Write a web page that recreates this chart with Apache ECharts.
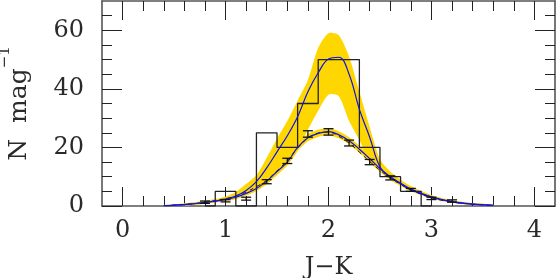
<!DOCTYPE html>
<html>
<head>
<meta charset="UTF-8">
<title>J-K histogram</title>
<script src="https://cdn.jsdelivr.net/npm/echarts@6/dist/echarts.min.js"></script>
<style>
  * { margin: 0; padding: 0; }
  body { background: #fff; }
  #chart { width: 556px; height: 278px; }
</style>
</head>
<body>
<div id="chart"></div>
<script>
// ticks
const xMajor = [0, 1, 2, 3, 4];
const xMinor = [0.2, 0.4, 0.6, 0.8, 1.2, 1.4, 1.6, 1.8, 2.2, 2.4, 2.6, 2.8, 3.2, 3.4, 3.6, 3.8];
const yMajor = [0, 20, 40, 60];
const yMinor = [5, 10, 15, 25, 30, 35, 45, 50, 55, 65];

// histogram (bin centres, N mag^-1)
const histX = [0.8, 1.0, 1.2, 1.4, 1.6, 1.8, 2.0, 2.2, 2.4, 2.6, 2.8, 3.0];
const histY = [0, 5, 0, 25, 20, 35, 50, 50, 20, 10, 5, 0];

// model curves / bands sampled on this grid
const gridX = [0.4, 0.6, 0.8, 1.0, 1.1, 1.2, 1.3, 1.4, 1.5, 1.6, 1.7, 1.8, 1.9, 2.0, 2.1, 2.2, 2.3, 2.4, 2.5, 2.6, 2.7, 2.8, 3.0, 3.2, 3.4, 3.6];
const lowLo  = [0.0, 0.2, 0.8, 1.7, 2.4, 3.6, 5.2, 7.5, 10.6, 13.9, 18.8, 22.1, 23.6, 24.2, 23.1, 21.1, 18.2, 15.0, 11.7, 9.0, 6.9, 5.0, 2.6, 1.1, 0.4, 0.0];
const lowHi  = [0.3, 0.8, 1.6, 2.7, 3.6, 5.0, 6.8, 9.5, 13.0, 16.5, 21.2, 24.5, 26.0, 26.6, 25.5, 23.5, 20.6, 17.4, 13.9, 11.0, 8.7, 6.6, 3.6, 1.9, 1.0, 0.4];
const upInner = [0.0, 0.2, 0.8, 1.7, 2.4, 3.6, 5.2, 7.5, 10.6, 13.9, 18.8, 26.0, 32.5, 38.0, 37.5, 29.0, 22.5, 15.0, 11.7, 9.0, 6.9, 5.0, 2.6, 1.1, 0.4, 0.0];
const upOuter = [0.3, 0.9, 1.8, 3.2, 4.8, 7.5, 10.5, 16.5, 23.0, 29.0, 36.0, 43.0, 54.0, 59.0, 58.3, 51.0, 39.0, 27.0, 16.0, 11.8, 9.0, 6.8, 3.7, 2.0, 1.0, 0.4];
const blueLow = [0.1, 0.5, 1.2, 2.2, 3.0, 4.3, 6.0, 8.5, 11.8, 15.0, 20.0, 23.3, 24.8, 25.4, 24.3, 22.3, 19.4, 16.2, 12.8, 10.0, 7.8, 5.8, 3.1, 1.5, 0.7, 0.2];
const blueHigh = [0.1, 0.5, 1.2, 2.4, 3.4, 5.3, 8.3, 13.0, 18.5, 24.0, 30.5, 39.0, 45.5, 50.2, 50.8, 45.0, 33.0, 23.5, 13.3, 9.8, 7.6, 5.6, 3.0, 1.4, 0.6, 0.2];
const dashed  = [0.1, 0.5, 1.3, 2.5, 3.4, 4.8, 6.6, 8.8, 12.0, 15.5, 19.8, 23.2, 24.9, 25.2, 23.8, 21.5, 18.4, 15.2, 12.2, 9.6, 7.4, 5.5, 2.8, 1.4, 0.6, 0.2];

// points with error bars
const errX = [0.8, 1.0, 1.2, 1.4, 1.6, 1.8, 2.0, 2.2, 2.4, 2.6, 2.8, 3.0, 3.2];
const errY = [1.3, 1.8, 2.5, 8.3, 15.4, 24.6, 25.3, 21.5, 15.0, 9.6, 5.5, 2.6, 1.7];
const errE = [0.4, 0.4, 0.5, 0.7, 0.9, 1.1, 1.1, 1.0, 0.9, 0.7, 0.5, 0.4, 0.4];

const FONT = 'DejaVu Serif';
const TXT = '#2a2a2a';
const FRAME = '#555';
const TICK = '#222';

function pairs(xs, ys) { return xs.map((x, i) => [x, ys[i]]); }

function bandItem(lo, hi) {
  return function (params, api) {
    const pts = [];
    for (let i = 0; i < gridX.length; i++) pts.push(api.coord([gridX[i], hi[i]]));
    for (let i = gridX.length - 1; i >= 0; i--) pts.push(api.coord([gridX[i], lo[i]]));
    return { type: 'polygon', shape: { points: pts, smooth: 0.25 }, style: { fill: '#ffd700', stroke: null } };
  };
}

function xAx(pos, ticks, len, withLabel) {
  return {
    type: 'value', position: pos, min: -0.2, max: 4.2, gridIndex: 0,
    axisLine: { show: len > 15, onZero: false, lineStyle: { color: FRAME, width: 1.6 } },
    axisTick: { show: true, inside: true, length: len, customValues: ticks, lineStyle: { color: TICK, width: 1 } },
    axisLabel: withLabel ? { show: true, customValues: ticks, margin: 13, fontFamily: FONT, fontSize: 24, color: TXT } : { show: false },
    splitLine: { show: false }
  };
}
function yAx(pos, ticks, len, withLabel) {
  return {
    type: 'value', position: pos, min: 0, max: 70, gridIndex: 0,
    axisLine: { show: len > 15, onZero: false, lineStyle: { color: FRAME, width: 1.6 } },
    axisTick: { show: true, inside: true, length: len, customValues: ticks, lineStyle: { color: TICK, width: 1 } },
    axisLabel: withLabel ? { show: true, customValues: ticks, margin: 18, fontFamily: FONT, fontSize: 24, color: TXT } : { show: false },
    splitLine: { show: false }
  };
}

const xAxes = [xAx('bottom', xMajor, 19, true), xAx('bottom', xMinor, 10, false), xAx('top', xMajor, 19, false), xAx('top', xMinor, 10, false)];
xAxes[0].name = 'J\u2212K';
xAxes[0].nameLocation = 'middle';
xAxes[0].nameGap = 50;
xAxes[0].nameTextStyle = { fontFamily: FONT, fontSize: 24, color: TXT };

const yAxes = [yAx('left', yMajor, 20, true), yAx('left', yMinor, 10, false), yAx('right', yMajor, 20, false), yAx('right', yMinor, 10, false)];
yAxes[0].name = '{a|N  mag}{s|\u22121}';
yAxes[0].nameLocation = 'middle';
yAxes[0].nameGap = 70;
yAxes[0].nameTextStyle = {
  fontFamily: FONT, fontSize: 25, color: TXT,
  rich: {
    a: { fontFamily: FONT, fontSize: 25, color: TXT, lineHeight: 34, verticalAlign: 'bottom' },
    s: { fontFamily: FONT, fontSize: 15, color: TXT, lineHeight: 34, verticalAlign: 'top' }
  }
};

const chart = echarts.init(document.getElementById('chart'));
chart.setOption({
  animation: false,
  grid: { left: 102, right: 1, top: 1, bottom: 72, outerBoundsMode: 'none' },
  xAxis: xAxes,
  yAxis: yAxes,
  series: [
    { type: 'custom', renderItem: bandItem(upInner, upOuter), data: [[1, 1]], z: 1, silent: true },
    { type: 'custom', renderItem: bandItem(lowLo, lowHi), data: [[1, 1]], z: 1, silent: true },
    {
      type: 'line', data: pairs(histX, histY), step: 'middle', symbol: 'none', z: 3,
      lineStyle: { color: '#222', width: 1.3 }
    },
    {
      type: 'line', data: pairs(gridX, dashed), smooth: 0.4, symbol: 'none', z: 4,
      lineStyle: { color: '#111', width: 1, type: [4, 4] }
    },
    {
      type: 'line', data: pairs(gridX, blueLow), smooth: 0.4, symbol: 'none', z: 5,
      lineStyle: { color: '#1010ee', width: 1.2 }
    },
    {
      type: 'line', data: pairs(gridX, blueHigh), smooth: 0.4, symbol: 'none', z: 5,
      lineStyle: { color: '#1010ee', width: 1.2 }
    },
    {
      type: 'custom', z: 6,
      data: errX.map((x, i) => [x, errY[i], errE[i]]),
      renderItem: function (params, api) {
        const x = api.value(0), y = api.value(1), e = api.value(2);
        const lo = api.coord([x, y - e]);
        const hi = api.coord([x, y + e]);
        const st = { stroke: '#111', lineWidth: 1.3 };
        return {
          type: 'group',
          children: [
            { type: 'line', shape: { x1: lo[0], y1: lo[1], x2: hi[0], y2: hi[1] }, style: st },
            { type: 'line', shape: { x1: lo[0] - 5, y1: lo[1], x2: lo[0] + 5, y2: lo[1] }, style: st },
            { type: 'line', shape: { x1: hi[0] - 5, y1: hi[1], x2: hi[0] + 5, y2: hi[1] }, style: st }
          ]
        };
      }
    }
  ]
});
</script>
</body>
</html>
